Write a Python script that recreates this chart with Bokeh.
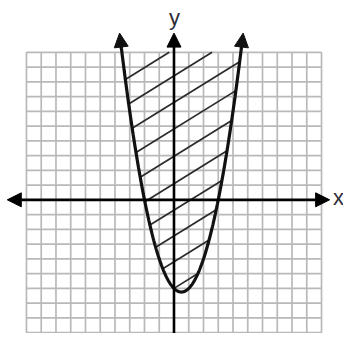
import numpy as np
from bokeh.plotting import figure
from bokeh.models import Range1d, Arrow, NormalHead, Label
from bokeh.embed import file_html
from bokeh.resources import INLINE

# ---- data ----
grid_ticks = list(range(-10, 11))            # grid lines every unit, -10..10
coef_a, coef_b, coef_c = 1.0, -1.0, -6.0     # y = x^2 - x - 6 (roots -2, 3)
curve_top = 11.3                              # height of the curve arrow tips
hatch_slope = 0.62
hatch_intercepts = [10.2, 8.4, 6.6, 4.8, 2.95, 1.1, -0.7, -2.45, -4.2, -6.0]
hatch_top = 10
axis_tip_x = [-11.3, 10.55]
axis_tip_y = [-11.3, 11.3]
axis_labels = ["x", "y"]

p = figure(width=343, height=333, output_backend="svg", toolbar_location=None,
           x_range=Range1d(-11.76, 11.49), y_range=Range1d(-9.06, 13.51),
           min_border=0)
p.axis.visible = False
p.grid.visible = False
p.outline_line_color = None
p.background_fill_color = "white"
p.border_fill_color = "white"

gmin, gmax = grid_ticks[0], grid_ticks[-1]
grid_col = "#b9b9b9"
# vertical grid lines
p.segment(x0=grid_ticks, y0=[gmin] * len(grid_ticks), x1=grid_ticks, y1=[gmax] * len(grid_ticks),
          line_color=grid_col, line_width=1.7)
# horizontal grid lines
p.segment(x0=[gmin] * len(grid_ticks), y0=grid_ticks, x1=[gmax] * len(grid_ticks), y1=grid_ticks,
          line_color=grid_col, line_width=1.7)

# hatch lines inside the parabola, clipped at the top of the grid
def f(x):
    return coef_a * x * x + coef_b * x + coef_c

hx0, hy0, hx1, hy1 = [], [], [], []
for b in hatch_intercepts:
    A = coef_a
    B = coef_b - hatch_slope
    C = coef_c - b
    disc = B * B - 4 * A * C
    if disc <= 0:
        continue
    xl = (-B - np.sqrt(disc)) / (2 * A)
    xr = (-B + np.sqrt(disc)) / (2 * A)
    yl = hatch_slope * xl + b
    if yl >= hatch_top:
        continue
    yr = hatch_slope * xr + b
    if yr > hatch_top:
        xr = (hatch_top - b) / hatch_slope
        yr = hatch_top
    hx0.append(xl); hy0.append(yl); hx1.append(xr); hy1.append(yr)
p.segment(x0=hx0, y0=hy0, x1=hx1, y1=hy1, line_color="#2b2b2b", line_width=1.7)

# axes with arrow heads
p.add_layout(Arrow(x_start=axis_tip_x[0], y_start=0, x_end=axis_tip_x[1], y_end=0,
                   line_color="black", line_width=2.6,
                   start=NormalHead(size=14, fill_color="black", line_color="black"),
                   end=NormalHead(size=14, fill_color="black", line_color="black")))
p.add_layout(Arrow(x_start=0, y_start=axis_tip_y[0], x_end=0, y_end=axis_tip_y[1],
                   line_color="black", line_width=2.6,
                   start=NormalHead(size=14, fill_color="black", line_color="black"),
                   end=NormalHead(size=14, fill_color="black", line_color="black")))

# parabola
disc_top = coef_b ** 2 - 4 * coef_a * (coef_c - curve_top)
x_left = (-coef_b - np.sqrt(disc_top)) / (2 * coef_a)
x_right = (-coef_b + np.sqrt(disc_top)) / (2 * coef_a)
xs = np.linspace(x_left, x_right, 400)
ys = f(xs)
p.line(xs[3:-3], ys[3:-3], line_color="#111111", line_width=3.2)
for i0, i1 in [(6, 0), (-7, -1)]:
    p.add_layout(Arrow(x_start=xs[i0], y_start=ys[i0], x_end=xs[i1], y_end=ys[i1],
                       line_color="#111111", line_width=3.2,
                       end=NormalHead(size=14, fill_color="#111111", line_color="#111111")))

# axis labels
p.add_layout(Label(x=11.15, y=0.13, text=axis_labels[0], text_align="center",
                   text_baseline="middle", text_font="Liberation Sans",
                   text_font_size="22px", text_color="#2e2e3a"))
p.add_layout(Label(x=0.03, y=12.36, text=axis_labels[1], text_align="center",
                   text_baseline="alphabetic", text_font="Liberation Sans",
                   text_font_size="22px", text_color="#2e2e3a"))

open("out.html", "w").write(file_html(p, INLINE))
